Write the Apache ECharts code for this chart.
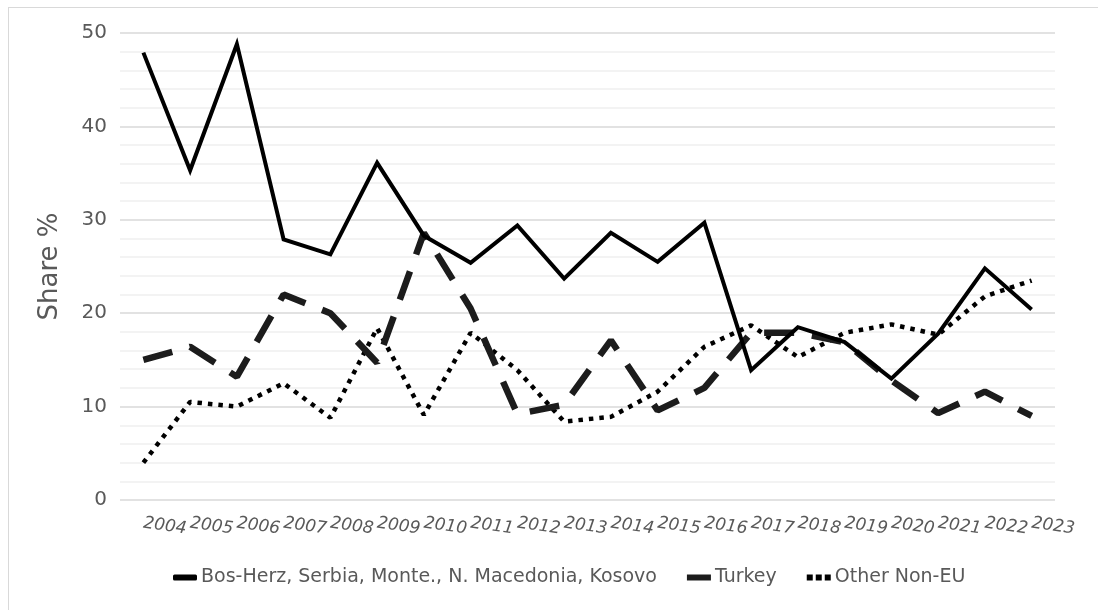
<!DOCTYPE html>
<html>
<head>
<meta charset="utf-8">
<script src="https://cdn.jsdelivr.net/npm/echarts@6/dist/echarts.min.js"></script>
<style>
  html, body { margin: 0; padding: 0; background: #fff; }
  .frame { position: absolute; left: 8px; top: 7px; width: 1200px; height: 700px; border: 1px solid #d9d9d9; }
  #chart { position: absolute; left: 0; top: 0; width: 1098px; height: 610px; }
</style>
</head>
<body>
<div class="frame"></div>
<div id="chart"></div>
<script>
// years on the x axis
const years = ['2004', '2005', '2006', '2007', '2008', '2009', '2010', '2011', '2012', '2013',
  '2014', '2015', '2016', '2017', '2018', '2019', '2020', '2021', '2022', '2023']

// share %
const balkans = [47.9, 35.3, 48.8, 27.9, 26.3, 36.1, 28.3, 25.4, 29.4, 23.7,
  28.6, 25.5, 29.7, 13.9, 18.5, 16.9, 13.0, 17.8, 24.8, 20.4]
const turkey = [15.0, 16.4, 13.2, 22.0, 20.0, 14.7, 28.6, 20.5, 9.2, 10.2,
  17.1, 9.6, 12.0, 17.9, 17.9, 16.9, 12.8, 9.3, 11.6, 9.0]
const otherNonEu = [4.0, 10.5, 10.0, 12.5, 8.8, 18.4, 9.1, 17.9, 13.9, 8.4,
  8.9, 11.6, 16.4, 18.7, 15.3, 17.9, 18.8, 17.7, 21.8, 23.5]

const names = ['Bos-Herz, Serbia, Monte., N. Macedonia, Kosovo', 'Turkey', 'Other Non-EU']

const chart = echarts.init(document.getElementById('chart'))
const font = 'DejaVu Sans, Verdana, sans-serif'

// legend icons: bar for the two lines, three squares for the dotted one
const dotsIcon = 'path://M0,0h5v5h-5z M7.5,0h5v5h-5z M15,0h5v5h-5z'

const option = {
  animation: false,
  textStyle: { fontFamily: font },
  grid: { left: 120, right: 43, top: 33, bottom: 110 },
  legend: {
    bottom: 18,
    left: 168,
    itemWidth: 24,
    itemHeight: 6,
    itemGap: 30,
    textStyle: { color: '#595959', fontSize: 19, fontFamily: font, padding: [0, 0, 0, -1] },
    data: [
      { name: names[0], icon: 'roundRect', itemStyle: { color: '#000' } },
      { name: names[1], icon: 'rect', itemStyle: { color: '#1c1c1c' } },
      { name: names[2], icon: dotsIcon, itemStyle: { color: '#000' } }
    ]
  },
  xAxis: {
    type: 'category',
    data: years,
    boundaryGap: true,
    axisLine: { show: false },
    axisTick: { show: false },
    axisLabel: {
      color: '#595959',
      fontSize: 17,
      fontStyle: 'italic',
      rotate: -8,
      margin: 23,
      interval: 0
    }
  },
  yAxis: {
    type: 'value',
    min: 0,
    max: 50,
    interval: 10,
    name: 'Share %',
    nameLocation: 'middle',
    nameGap: 57,
    nameTextStyle: { color: '#595959', fontSize: 26 },
    axisLine: { show: false },
    axisTick: { show: false },
    axisLabel: { color: '#595959', fontSize: 20, margin: 13 },
    splitLine: { lineStyle: { color: '#d9d9d9', width: 1.5 } },
    minorTick: { show: false, splitNumber: 5 },
    minorSplitLine: { show: true, lineStyle: { color: '#efefef', width: 1.5 } }
  },
  series: [
    {
      name: names[0],
      type: 'line',
      data: balkans,
      symbol: 'none',
      lineStyle: { color: '#000', width: 4, join: 'miter' },
      itemStyle: { color: '#000' },
      z: 3
    },
    {
      name: names[1],
      type: 'line',
      data: turkey,
      symbol: 'none',
      lineStyle: { color: '#1c1c1c', width: 6.5, type: [30, 18] },
      itemStyle: { color: '#1c1c1c' },
      z: 2
    },
    {
      name: names[2],
      type: 'line',
      data: otherNonEu,
      symbol: 'none',
      lineStyle: { color: '#000', width: 4.5, type: [4.5, 6] },
      itemStyle: { color: '#000' },
      z: 1
    }
  ]
}

chart.setOption(option)
window.addEventListener('resize', () => chart.resize())
</script>
</body>
</html>
